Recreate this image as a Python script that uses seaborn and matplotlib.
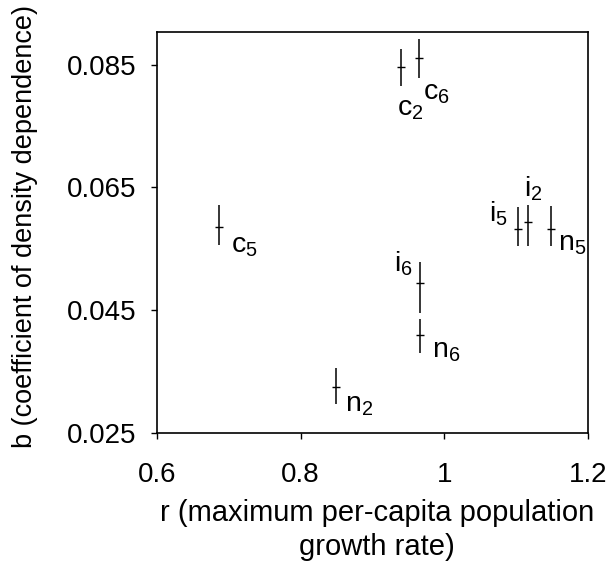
import matplotlib
matplotlib.use("Agg")
import matplotlib.pyplot as plt
import seaborn as sns
import pandas as pd
import numpy as np

# ---- data ----
letters = ["c", "c", "c", "i", "n", "n", "i", "i", "n"]
subs = ["2", "6", "5", "6", "6", "2", "5", "2", "5"]
r_vals = [0.939, 0.965, 0.686, 0.966, 0.966, 0.849, 1.103, 1.116, 1.148]
b_vals = [0.0846, 0.0861, 0.0585, 0.0495, 0.0410, 0.0325, 0.0582, 0.0593, 0.0582]
b_low = [0.0815, 0.0828, 0.0556, 0.0445, 0.0380, 0.0297, 0.0554, 0.0554, 0.0554]
b_high = [0.0875, 0.0891, 0.0621, 0.0528, 0.0435, 0.0356, 0.0618, 0.0622, 0.0620]

x_ticks = [0.6, 0.8, 1.0, 1.2]
x_ticklabels = ["0.6", "0.8", "1", "1.2"]
y_ticks = [0.025, 0.045, 0.065, 0.085]
y_ticklabels = ["0.025", "0.045", "0.065", "0.085"]

# label placement (pixel offsets from the point, alignment)
label_style = [(-4, -48, "left"), (4, -42, "left"), (12, -25, "left"),
               (-7, 11, "right"), (12, -23, "left"), (9, -25, "left"),
               (-11, 8, "right"), (-4, 26, "left"), (7, -21, "left")]

df = pd.DataFrame({"r": r_vals, "b": b_vals, "lo": b_low, "hi": b_high,
                   "letter": letters, "sub": subs})

sns.set_theme(style="ticks")
plt.rcParams["font.family"] = ["Liberation Sans", "DejaVu Sans"]
plt.rcParams["mathtext.fontset"] = "custom"
plt.rcParams["mathtext.rm"] = "Liberation Sans"
plt.rcParams["mathtext.it"] = "Liberation Sans"

fig = plt.figure(figsize=(6.10, 5.64), dpi=100)
ax = fig.add_axes([157 / 610, 131 / 564, 431 / 610, 401 / 564])

yerr = np.array([df["b"] - df["lo"], df["hi"] - df["b"]])
ax.errorbar(df["r"], df["b"], yerr=yerr, fmt="none", ecolor="black",
            elinewidth=1.1, capsize=0, zorder=2)
sns.scatterplot(data=df, x="r", y="b", marker="_", s=30, color="black",
                linewidth=1.0, ax=ax, zorder=3, legend=False)

for (rx, by, let, sb), (dx, dy, ha) in zip(
        zip(df["r"], df["b"], df["letter"], df["sub"]), label_style):
    ax.annotate(r"$\mathregular{%s_{%s}}$" % (let, sb), xy=(rx, by),
                xytext=(dx, dy), textcoords="offset pixels",
                ha=ha, va="baseline", fontsize=20.5, color="black")

ax.set_xlim(0.6, 1.2)
ax.set_ylim(0.025, 0.0903)
ax.set_xticks(x_ticks)
ax.set_xticklabels(x_ticklabels)
ax.set_yticks(y_ticks)
ax.set_yticklabels(y_ticklabels)
ax.tick_params(axis="both", direction="out", length=4, width=1.0,
               labelsize=20, color="black", labelcolor="black")
ax.tick_params(axis="y", pad=11)
ax.tick_params(axis="x", pad=17)
for sp in ax.spines.values():
    sp.set_visible(True)
    sp.set_color("black")
    sp.set_linewidth(1.2)

ax.set_xlabel("r (maximum per-capita population\ngrowth rate)", fontsize=21,
              linespacing=1.25, color="black")
ax.set_ylabel("b (coefficient of density dependence)", fontsize=19.5,
              color="black")
ax.xaxis.set_label_coords(0.51, -0.165)
ax.yaxis.set_label_coords(-0.276, 0.515)

fig.savefig("out.png", dpi=100, facecolor="white")
